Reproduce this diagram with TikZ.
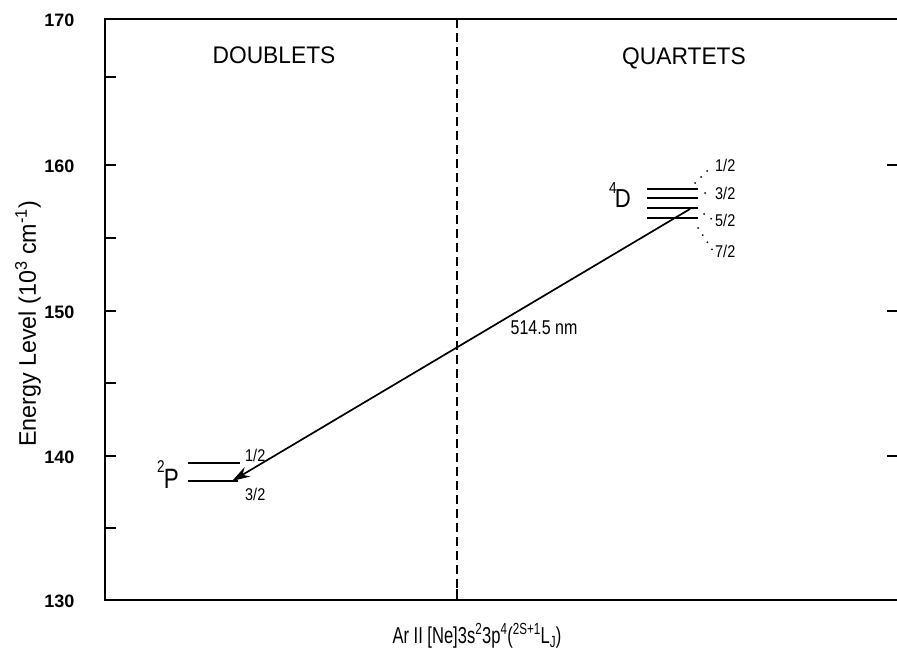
\documentclass[tikz,border=0pt]{standalone}
\usepackage{fontspec}
\setmainfont{Liberation Sans}
\usetikzlibrary{arrows.meta,calc}
\begin{document}
\begin{tikzpicture}[x=1pt,y=-1pt,
  axis/.style={line width=2.6pt},
  tickmark/.style={line width=2pt},
  level/.style={line width=1.9pt},
  dotlead/.style={line width=2pt,dash pattern=on 0pt off 8.5pt,line cap=round},
  ticklab/.style={font=\fontsize{18}{18}\selectfont\bfseries,anchor=east},
  sublab/.style={font=\fontsize{17}{17}\selectfont,anchor=west,inner sep=0pt},
  head/.style={font=\fontsize{24}{24}\selectfont}]
\useasboundingbox (0,0) rectangle (897,656);
% frame
\coordinate (tl) at (105,19);
\coordinate (bl) at (105,600);
\coordinate (br) at (897,600);
\coordinate (tr) at (897,19);
\draw[axis] (tr) -- (tl) -- (bl) -- (br);
% left ticks
\foreach \y in {77,165,238,311,383,456,528}{
  \draw[tickmark] (105,\y) -- (116,\y);
}
% right ticks
\foreach \y in {165,311,456}{
  \draw[tickmark] (887,\y) -- (897,\y);
}
% tick labels
\node[ticklab] (l170) at (78,20) {170};
\node[ticklab] (l160) at (78,166) {160};
\node[ticklab] (l150) at (78,312) {150};
\node[ticklab] (l140) at (78,457) {140};
\node[ticklab] (l130) at (78,601) {130};
% dashed divider
\coordinate (dtop) at (457,19);
\coordinate (dbot) at (457,600);
\draw[line width=1.5pt,dash pattern=on 9pt off 5pt] (dtop) -- (dbot);
\draw[tickmark] (457,589) -- (dbot);
% headings
\node[head] (doub) at (274,55) {\scalebox{0.95}[1]{DOUBLETS}};
\node[head] (quar) at (684,58) {\scalebox{0.95}[1]{QUARTETS}};
% axis labels
\node[font=\fontsize{24}{24}\selectfont,rotate=90] (ylab) at (28,324) {\scalebox{0.97}[1]{Energy Level (10\textsuperscript{3} cm\textsuperscript{-1})}};
\node[font=\fontsize{23}{23}\selectfont] (xlab) at (477,636) {\scalebox{0.72}[1]{Ar II [Ne]3s\textsuperscript{2}3p\textsuperscript{4}(\textsuperscript{2S+1}L\textsubscript{J})}};
% 2P levels
\coordinate (p1a) at (188,463);
\coordinate (p1b) at (240,463);
\coordinate (p3a) at (188,481);
\coordinate (p3b) at (238,481);
\coordinate (ptip) at (232,481);
\draw[level] (p1a) -- (p1b);
\draw[level] (p3a) -- (p3b);
\node[font=\fontsize{28}{28}\selectfont,inner sep=0pt] (P) at (168,475) {\scalebox{0.8}[1]{\raisebox{16pt}{\fontsize{17}{17}\selectfont 2}\kern-1ptP}};
\node[sublab] (p12) at (245,455) {\scalebox{0.85}[1]{1/2}};
\node[sublab] (p32) at (245,494) {\scalebox{0.85}[1]{3/2}};
% 4D levels
\coordinate (d1a) at (647,189); \coordinate (d1b) at (698,189);
\coordinate (d3a) at (647,198); \coordinate (d3b) at (698,198);
\coordinate (d5a) at (647,208); \coordinate (d5b) at (698,208);
\coordinate (d7a) at (647,218); \coordinate (d7b) at (698,218);
\draw[level] (d1a) -- (d1b);
\draw[level] (d3a) -- (d3b);
\draw[level] (d5a) -- (d5b);
\draw[level] (d7a) -- (d7b);
\node[font=\fontsize{26}{26}\selectfont,inner sep=0pt] (D) at (620,195) {\scalebox{0.85}[1]{\raisebox{14pt}{\fontsize{16}{16}\selectfont 4}\kern-2ptD}};
\node[sublab] (d12) at (715,165) {\scalebox{0.85}[1]{1/2}};
\node[sublab] (d32) at (715,193) {\scalebox{0.85}[1]{3/2}};
\node[sublab] (d52) at (715,220) {\scalebox{0.85}[1]{5/2}};
\node[sublab] (d72) at (715,251) {\scalebox{0.85}[1]{7/2}};
\coordinate (e1) at (695,183);
\coordinate (e3) at (705,193);
\coordinate (e5) at (704,214);
\coordinate (e7) at (698,228);
\draw[dotlead] (e1) -- ($(d12.west)+(-2,0)$);
\draw[dotlead] (e3) -- ($(d32.west)+(-2,0)$);
\draw[dotlead] (e5) -- ($(d52.west)+(-2,0)$);
\draw[dotlead] (e7) -- ($(d72.west)+(-2,0)$);
% transition
\coordinate (tstart) at (690,209);
\draw[line width=1.7pt,-{Stealth[length=18pt,width=11pt]}] (tstart) -- (ptip);
\node[font=\fontsize{20}{20}\selectfont] (nm) at (544,328) {\scalebox{0.8}[1]{514.5 nm}};
\end{tikzpicture}
\end{document}
